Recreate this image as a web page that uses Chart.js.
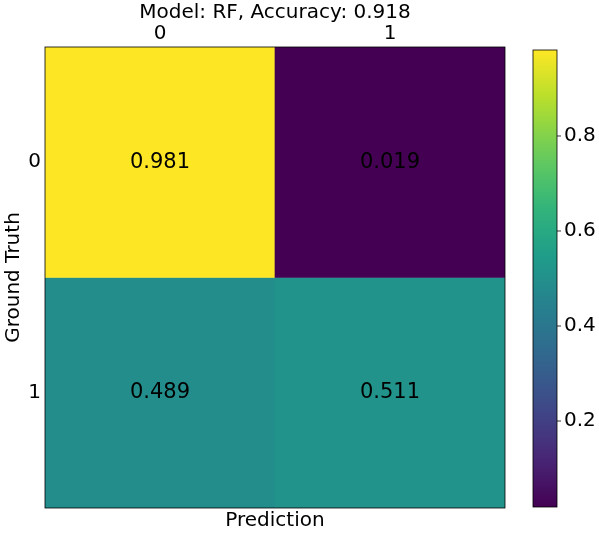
<!DOCTYPE html>
<html><head><meta charset="utf-8">
<script src="https://cdn.jsdelivr.net/npm/chart.js@4"></script>
<style>html,body{margin:0;background:#fff}#wrap{width:599px;height:536px}</style>
</head><body><div id="wrap"><canvas id="c"></canvas></div>
<script>
const predLabels = ['0', '1'];
const truthLabels = ['0', '1'];
const matrix = [[0.981, 0.019], [0.489, 0.511]];
const cbTicks = [0.2, 0.4, 0.6, 0.8];
const cbMin = 0.019, cbMax = 0.981;
const title = 'Model: RF, Accuracy: 0.918';

const stops = [[68,1,84],[72,40,120],[62,74,137],[49,104,142],[38,130,142],[31,158,137],[53,183,121],[109,205,89],[180,222,44],[253,231,37]];
function viridis(t) {
  t = Math.max(0, Math.min(1, t)) * (stops.length - 1);
  const i = Math.min(stops.length - 2, Math.floor(t)), f = t - i;
  const c = stops[i].map((v, k) => Math.round(v + (stops[i + 1][k] - v) * f));
  return `rgb(${c[0]},${c[1]},${c[2]})`;
}
const norm = v => (v - cbMin) / (cbMax - cbMin);
const FONT = '"DejaVu Sans", sans-serif';

const datasets = truthLabels.map((r, ri) => ({
  label: 'truth ' + r,
  data: predLabels.map(() => 1),
  backgroundColor: matrix[ri].map(v => viridis(norm(v))),
  borderWidth: 0, barPercentage: 1, categoryPercentage: 1, stack: 's'
}));

const deco = {
  id: 'deco',
  afterDraw(chart) {
    const ctx = chart.ctx, a = chart.chartArea, xs = chart.scales.x, ys = chart.scales.y;
    ctx.save();
    ctx.strokeStyle = '#000'; ctx.lineWidth = 0.8;
    ctx.strokeRect(a.left, a.top, a.right - a.left, a.bottom - a.top);
    ctx.fillStyle = '#000'; ctx.textAlign = 'center'; ctx.textBaseline = 'middle';
    ctx.font = '21px ' + FONT;
    matrix.forEach((row, ri) => row.forEach((v, ci) => {
      ctx.fillText(v.toFixed(3), xs.getPixelForValue(ci), ys.getPixelForValue(ri + 0.5));
    }));
    ctx.font = '20px ' + FONT;
    predLabels.forEach((l, i) => ctx.fillText(l, xs.getPixelForValue(i), 34));
    ctx.fillText(title, (a.left + a.right) / 2, 13);
    ctx.fillText('Prediction', (a.left + a.right) / 2, 521);
    ctx.textAlign = 'right';
    truthLabels.forEach((l, i) => ctx.fillText(l, a.left - 4, ys.getPixelForValue(i + 0.5)));
    ctx.save(); ctx.translate(14, (a.top + a.bottom) / 2); ctx.rotate(-Math.PI / 2);
    ctx.textAlign = 'center'; ctx.fillText('Ground Truth', 0, 0); ctx.restore();
    // colorbar
    const cx = 533, cw = 24, ct = 50, cb = 507;
    const g = ctx.createLinearGradient(0, cb, 0, ct);
    for (let k = 0; k <= 20; k++) g.addColorStop(k / 20, viridis(k / 20));
    ctx.fillStyle = g; ctx.fillRect(cx, ct, cw, cb - ct);
    ctx.strokeRect(cx, ct, cw, cb - ct);
    ctx.fillStyle = '#000'; ctx.textAlign = 'left';
    cbTicks.forEach(t => {
      const y = cb - norm(t) * (cb - ct);
      ctx.beginPath(); ctx.moveTo(cx + cw, y); ctx.lineTo(cx + cw + 4, y); ctx.stroke();
      ctx.fillText(t.toFixed(1), cx + cw + 7, y);
    });
    ctx.restore();
  }
};

new Chart(document.getElementById('c'), {
  type: 'bar',
  data: { labels: predLabels, datasets },
  options: {
    responsive: true, maintainAspectRatio: false, animation: false,
    layout: { padding: { left: 45, right: 94, top: 47, bottom: 28 } },
    plugins: { legend: { display: false }, tooltip: { enabled: false } },
    scales: {
      x: { display: false, stacked: true },
      y: { display: false, stacked: true, min: 0, max: 2, reverse: true }
    }
  },
  plugins: [deco]
});
</script></body></html>
